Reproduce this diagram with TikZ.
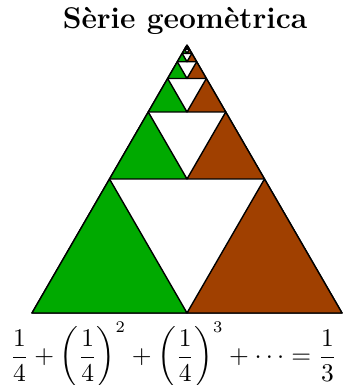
\documentclass[tikz,border=0pt]{standalone}
\usepackage{amsmath}

\definecolor{verd}{RGB}{0,170,0}
\definecolor{marro}{RGB}{160,64,0}

\begin{document}
\begin{tikzpicture}[
    x=0.43pt, y=0.43pt,
    line join=round,
    peca/.style={draw=black, line width=0.6pt},
    titol/.style={font=\fontsize{12.9}{15}\selectfont\bfseries, anchor=base},
    formula/.style={font=\fontsize{10.6}{13}\selectfont}
    ]

    \useasboundingbox (0,0) rectangle (344,385);

    % Title
    \node[titol] (tit) at (185, 356) {Sèrie geomètrica};

    % Outer triangle
    \draw[peca] (32,72) -- (342,72) -- (187,340) -- cycle;

    % One level each: green and brown corners, white hole in the middle
    \foreach \i in {0,...,7} {
        \pgfmathsetmacro\s{310/2^\i}
        \pgfmathsetmacro\h{268/2^\i}
        \pgfmathsetmacro\xl{187-\s/2}
        \pgfmathsetmacro\yb{340-\h}
        \filldraw[peca, fill=verd] (\xl,\yb) -- ++(\s/2,0) -- ++(-\s/4,\h/2) -- cycle;
        \filldraw[peca, fill=marro] (\xl+\s/2,\yb) -- ++(\s/2,0) -- ++(-\s/4,\h/2) -- cycle;
    }

    % Sum of the series
    \node[formula, inner sep=0pt] (serie) at (173.5, 30)
        {$\displaystyle \frac{1}{4}+\left(\frac{1}{4}\right)^2+\left(\frac{1}{4}\right)^3+\cdots=\frac{1}{3}$};

\end{tikzpicture}
\end{document}
